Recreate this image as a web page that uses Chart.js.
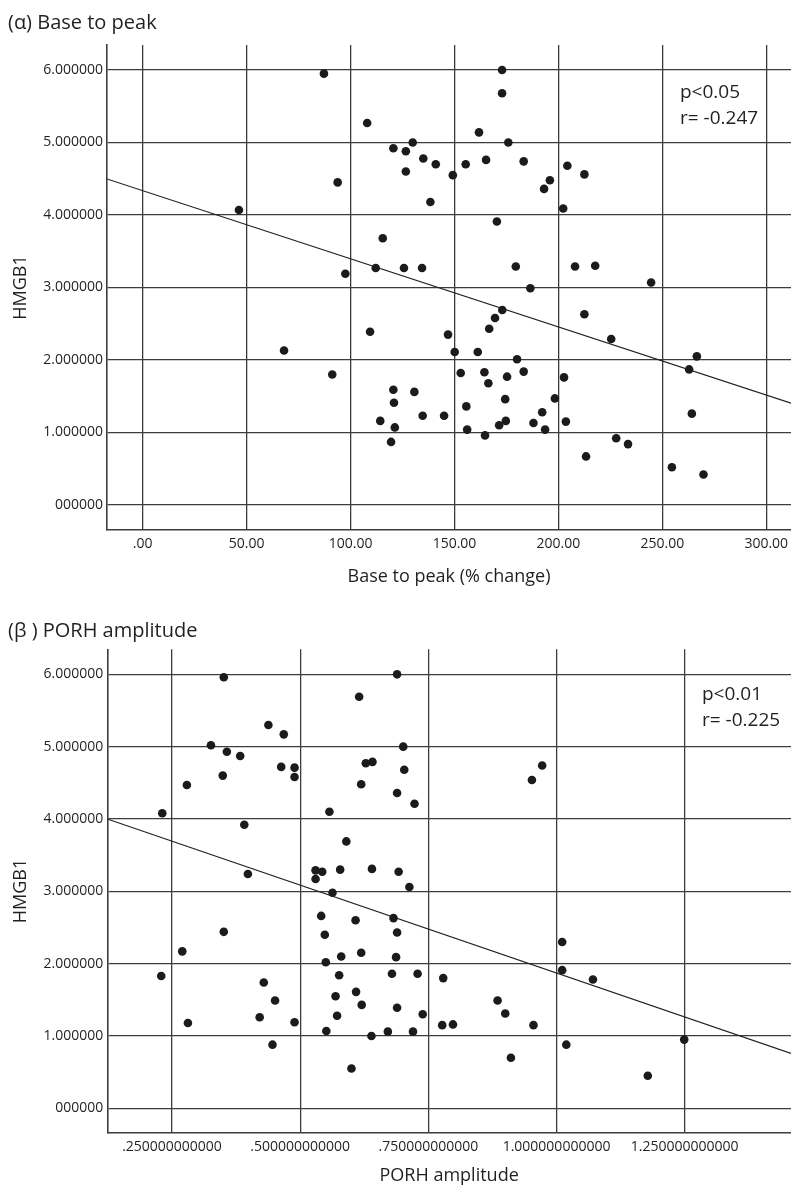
<!DOCTYPE html>
<html><head><meta charset="utf-8">
<script src="https://cdn.jsdelivr.net/npm/chart.js@4.4.1/dist/chart.umd.min.js"></script>
<style>
body{margin:0;background:#fff;width:791px;height:1187px;position:relative;overflow:hidden;font-family:'Open Sans',sans-serif;color:#231f20}
canvas{position:absolute;left:0}
#c1{top:0}
#c2{top:600px}
.ttl{position:absolute;left:8px;font-size:20px;line-height:20px;white-space:nowrap;z-index:2}
.ann{position:absolute;font-size:19px;line-height:25.7px;white-space:nowrap;z-index:2}
</style></head><body>
<canvas id="c1" width="791" height="600"></canvas>
<canvas id="c2" width="791" height="587"></canvas>
<div class="ttl" style="top:12px">(α) Base to peak</div>
<div class="ann" style="left:680px;top:79px">p&lt;0.05<br>r= -0.247</div>
<div class="ttl" style="top:620px">(β ) PORH amplitude</div>
<div class="ann" style="left:702px;top:681px">p&lt;0.01<br>r= -0.225</div>
<script>
// ---- Panel (α): Base to peak (% change) vs HMGB1 ----
const baseToPeak = [87.2,108.0,120.6,93.8,46.3,115.5,112.1,97.5,172.9,172.9,161.8,175.9,126.6,129.9,135.0,141.0,126.6,149.2,155.4,165.2,183.3,204.3,212.5,195.9,193.1,138.4,202.3,170.4,125.7,134.4,179.5,208.0,217.7,244.6,186.5,212.5,225.4,173.0,169.5,166.7,146.9,150.1,161.2,180.1,153.0,164.4,183.3,166.3,175.3,202.7,266.6,262.9,264.2,120.6,120.9,130.7,134.7,145.0,155.7,174.4,198.3,192.2,174.7,171.5,188.0,203.6,121.3,156.1,193.6,164.7,119.5,227.8,233.5,213.3,254.6,269.8,68.0,109.4,91.2,114.3];
const hmgb1A = [5.95,5.27,4.92,4.45,4.07,3.68,3.27,3.19,6.00,5.68,5.14,5.00,4.88,5.00,4.78,4.70,4.60,4.55,4.70,4.76,4.74,4.68,4.56,4.48,4.36,4.18,4.09,3.91,3.27,3.27,3.29,3.29,3.30,3.07,2.99,2.63,2.29,2.69,2.58,2.43,2.35,2.11,2.11,2.01,1.82,1.83,1.84,1.68,1.77,1.76,2.05,1.87,1.26,1.59,1.41,1.56,1.23,1.23,1.36,1.46,1.47,1.28,1.16,1.10,1.13,1.15,1.07,1.04,1.04,0.96,0.87,0.92,0.84,0.67,0.52,0.42,2.13,2.39,1.80,1.16];
const xTicksA = [0,50,100,150,200,250,300];
const xTickLabelsA = ['.00','50.00','100.00','150.00','200.00','250.00','300.00'];
const fitA = {intercept: 4.336, slope: -0.0094};

// ---- Panel (β): PORH amplitude vs HMGB1 ----
const porhAmplitude = [0.351,0.689,0.615,0.438,0.468,0.326,0.357,0.383,0.463,0.489,0.489,0.349,0.279,0.231,0.391,0.398,0.628,0.641,0.619,0.689,0.557,0.590,0.530,0.543,0.530,0.578,0.640,0.692,0.563,0.701,0.703,0.723,0.972,0.952,0.713,0.541,0.608,0.682,0.548,0.689,0.351,0.270,0.580,0.619,0.687,0.550,0.229,0.576,0.679,0.429,0.569,0.609,0.451,0.620,0.689,0.421,0.572,0.489,0.281,0.551,0.671,0.639,0.446,0.600,0.729,0.779,0.739,0.720,0.777,0.798,0.885,0.900,0.955,0.911,1.011,1.011,1.071,1.019,1.249,1.178];
const hmgb1B = [5.96,6.00,5.69,5.30,5.17,5.02,4.93,4.87,4.72,4.71,4.58,4.60,4.47,4.08,3.92,3.24,4.77,4.79,4.48,4.36,4.10,3.69,3.29,3.27,3.17,3.30,3.31,3.27,2.98,5.00,4.68,4.21,4.74,4.54,3.06,2.66,2.60,2.63,2.40,2.43,2.44,2.17,2.10,2.15,2.09,2.02,1.83,1.84,1.86,1.74,1.55,1.61,1.49,1.43,1.39,1.26,1.28,1.19,1.18,1.07,1.06,1.00,0.88,0.55,1.86,1.80,1.30,1.06,1.15,1.16,1.49,1.31,1.15,0.70,2.30,1.91,1.78,0.88,0.95,0.45];
const xTicksB = [0.25,0.5,0.75,1.0,1.25];
const xTickLabelsB = ['.250000000000','.500000000000','.750000000000','1.000000000000','1.250000000000'];
const fitB = {intercept: 4.30, slope: -2.43};

// ---- shared Y axis ----
const yTicks = [0,1,2,3,4,5,6];
const yTickLabels = ['000000','1.000000','2.000000','3.000000','4.000000','5.000000','6.000000'];

Chart.defaults.font.family = "'Open Sans', sans-serif";
Chart.defaults.color = '#231f20';
const INK = '#231f20';
const GRID = '#3c3c3c';

function makeChart(id, xs, ys, xTicks, xLabels, fit, c) {
  const pts = xs.map((x, i) => ({x: x, y: ys[i]}));
  const f = x => fit.intercept + fit.slope * x;
  const linePts = [{x: c.xMin, y: f(c.xMin)}, {x: c.xMax, y: f(c.xMax)}];
  return new Chart(document.getElementById(id), {
    type: 'scatter',
    data: {datasets: [
      {data: pts, pointRadius: 4.3, pointHoverRadius: 4.3, pointBackgroundColor: '#1c1a1b', pointBorderWidth: 0, showLine: false},
      {data: linePts, showLine: true, pointRadius: 0, borderColor: INK, borderWidth: 1.1, fill: false}
    ]},
    options: {
      responsive: false, animation: false,
      layout: {autoPadding: false, padding: {top: c.top, left: 0, right: 0, bottom: 0}},
      plugins: {legend: {display: false}, tooltip: {enabled: false}},
      scales: {
        x: {
          type: 'linear', min: c.xMin, max: c.xMax,
          afterBuildTicks: s => { s.ticks = xTicks.map(v => ({value: v})); },
          afterFit: s => { s.height = c.xAxisH; s.paddingLeft = 0; s.paddingRight = 0; },
          ticks: {callback: v => xLabels[xTicks.indexOf(v)], padding: 6, font: {size: 14}, color: INK, maxRotation: 0, autoSkip: false},
          grid: {color: GRID, lineWidth: 1.3, drawTicks: false},
          border: {display: true, color: GRID, width: 1.6},
          title: {display: true, text: c.xTitle, font: {size: 18}, color: INK, padding: {top: 0, bottom: c.xTitlePad}}
        },
        y: {
          type: 'linear', min: c.yMin, max: c.yMax,
          afterBuildTicks: s => { s.ticks = yTicks.map(v => ({value: v})); },
          afterFit: s => { s.width = c.yAxisW; s.paddingTop = 0; s.paddingBottom = 0; },
          ticks: {callback: v => yTickLabels[yTicks.indexOf(v)], padding: 4, font: {size: 14}, color: INK},
          grid: {color: GRID, lineWidth: 1.3, drawTicks: false},
          border: {display: true, color: GRID, width: 1.6},
          title: {display: true, text: 'HMGB1', font: {size: 18}, color: INK, padding: {top: 10, bottom: 0}}
        }
      }
    }
  });
}

makeChart('c1', baseToPeak, hmgb1A, xTicksA, xTickLabelsA, fitA, {
  top: 45, xAxisH: 70, yAxisW: 107, xMin: -17.17, xMax: 311.9, yMin: -0.345, yMax: 6.345,
  xTitle: 'Base to peak (% change)', xTitlePad: 12
});
makeChart('c2', porhAmplitude, hmgb1B, xTicksB, xTickLabelsB, fitB, {
  top: 49.3, xAxisH: 54.3, yAxisW: 107.3, xMin: 0.1238, xMax: 1.4573, yMin: -0.337, yMax: 6.346,
  xTitle: 'PORH amplitude', xTitlePad: 0
});
</script>
</body></html>
